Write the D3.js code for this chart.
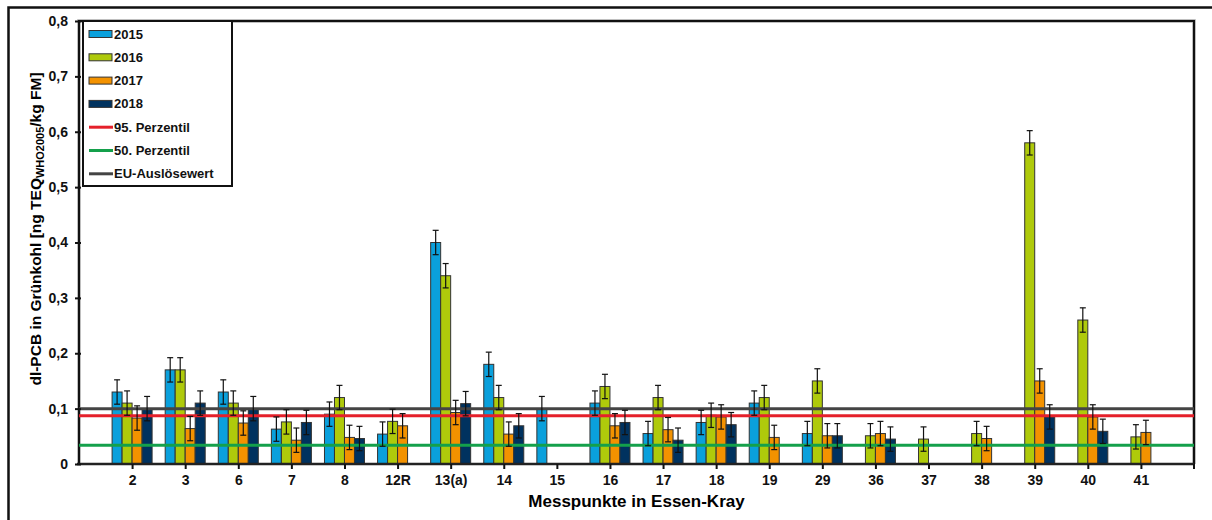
<!DOCTYPE html>
<html>
<head>
<meta charset="utf-8">
<script src="https://cdn.jsdelivr.net/npm/d3@7"></script>
<style>
  body { margin: 0; background: #fff; }
  svg { display: block; font-family: Arial, 'Liberation Sans', sans-serif; }
  .tick text { font-weight: bold; font-size: 14px; fill: #111; }
</style>
</head>
<body>
<div id="chart"></div>
<script>
// values (ng TEQ/kg FM)
const categories = ['2', '3', '6', '7', '8', '12R', '13(a)', '14', '15', '16', '17', '18', '19', '29', '36', '37', '38', '39', '40', '41'];
const years = ['2015', '2016', '2017', '2018'];
const v2015 = [0.13, 0.17, 0.13, 0.063, 0.09, 0.054, 0.40, 0.18, 0.10, 0.11, 0.055, 0.075, 0.11, 0.055, null, null, null, null, null, null];
const v2016 = [0.11, 0.17, 0.11, 0.076, 0.12, 0.077, 0.34, 0.12, null, 0.14, 0.12, 0.088, 0.12, 0.15, 0.051, 0.045, 0.055, 0.58, 0.26, 0.049];
const v2017 = [0.083, 0.064, 0.074, 0.043, 0.048, 0.069, 0.093, 0.054, null, 0.069, 0.062, 0.085, 0.048, 0.051, 0.055, null, 0.046, 0.15, 0.085, 0.057];
const v2018 = [0.10, 0.11, 0.10, 0.075, 0.046, null, 0.109, 0.069, null, 0.075, 0.043, 0.071, null, 0.051, 0.045, null, null, 0.085, 0.059, null];
const errorMargin = 0.022;
const yTicks = [0, 0.1, 0.2, 0.3, 0.4, 0.5, 0.6, 0.7, 0.8];
const refLines = [
    { name: '95. Perzentil', value: 0.087, color: '#e5202a' },
    { name: '50. Perzentil', value: 0.034, color: '#14a04b' },
    { name: 'EU-Auslösewert', value: 0.10, color: '#444444' }
];
const colors = ['#0aa0dc', '#afca0b', '#f39200', '#00325f'];

const width = 1212, height = 520;
const margin = { left: 79, right: 18, top: 21, bottom: 56 };
const series = [v2015, v2016, v2017, v2018];

const svg = d3.select('#chart').append('svg')
    .attr('width', width).attr('height', height);

// outer frame (only top/left visible)
svg.append('path')
    .attr('d', `M8.5,${height + 5}V7.5H${width + 5}`)
    .attr('fill', 'none').attr('stroke', '#111').attr('stroke-width', 2.5);

const x0 = margin.left, x1 = width - margin.right;
const step = (x1 - x0) / (categories.length + 1);
const x = d3.scalePoint().domain(categories).range([x0 + step, x1 - step]);
const y = d3.scaleLinear().domain([0, 0.8]).range([height - margin.bottom, margin.top]);
const barW = 10;

// plot frame
const framePath = `M${x0},${y(0)}V${margin.top}H${x1}V${y(0)}`;
svg.append('path').attr('d', framePath)
    .attr('fill', 'none').attr('stroke', '#aaa').attr('stroke-width', 3.5);
svg.append('path').attr('d', framePath)
    .attr('fill', 'none').attr('stroke', '#111').attr('stroke-width', 2);

// bars
series.forEach((vals, s) => {
    const data = vals.map((v, i) => ({ v, c: categories[i] })).filter(d => d.v != null);
    svg.append('g').selectAll('rect').data(data).join('rect')
        .attr('x', d => x(d.c) - 2 * barW + s * barW)
        .attr('y', d => y(d.v))
        .attr('width', barW)
        .attr('height', d => y(0) - y(d.v))
        .attr('fill', colors[s])
        .attr('stroke', '#333').attr('stroke-width', 1);
});

// reference lines
refLines.forEach(r => {
    svg.append('line')
        .attr('x1', x0).attr('x2', x1)
        .attr('y1', y(r.value)).attr('y2', y(r.value))
        .attr('stroke', r.color).attr('stroke-width', 3);
});

// error bars
series.forEach((vals, s) => {
    const data = vals.map((v, i) => ({ v, c: categories[i] })).filter(d => d.v != null);
    const g = svg.append('g').attr('stroke', '#111').attr('stroke-width', 1.2);
    data.forEach(d => {
        const cx = x(d.c) - 2 * barW + s * barW + barW / 2;
        const yt = y(d.v + errorMargin), yb = y(d.v - errorMargin);
        g.append('line').attr('x1', cx).attr('x2', cx).attr('y1', yt).attr('y2', yb);
        g.append('line').attr('x1', cx - 3).attr('x2', cx + 3).attr('y1', yt).attr('y2', yt);
        g.append('line').attr('x1', cx - 3).attr('x2', cx + 3).attr('y1', yb).attr('y2', yb);
    });
});

// x axis
const xAxis = svg.append('g')
    .attr('transform', `translate(0,${y(0)})`)
    .call(d3.axisBottom(x).tickSize(5).tickSizeOuter(0).tickPadding(6));
xAxis.select('.domain').attr('d', `M${x0 - 2},0H${x1}`).attr('stroke', '#222').attr('stroke-width', 2.5);
xAxis.selectAll('.tick line').attr('stroke', '#111').attr('stroke-width', 2);
xAxis.append('line').attr('x1', x1).attr('x2', x1).attr('y1', 0).attr('y2', 5)
    .attr('stroke', '#111').attr('stroke-width', 2);

// y axis
const yAxis = svg.append('g')
    .attr('transform', `translate(${x0},0)`)
    .call(d3.axisLeft(y).tickValues(yTicks).tickSize(4).tickSizeOuter(0).tickPadding(7)
        .tickFormat(d => d === 0 ? '0' : d3.format('.1f')(d).replace('.', ',')));
yAxis.select('.domain').remove();
yAxis.selectAll('.tick line').attr('stroke', '#111').attr('stroke-width', 2).attr('x2', -4).attr('x1', 2);

// axis titles
svg.append('text')
    .attr('x', (x0 + x1) / 2).attr('y', 507)
    .attr('text-anchor', 'middle')
    .attr('font-weight', 'bold').attr('font-size', 17)
    .text('Messpunkte in Essen-Kray');

const yt = svg.append('text')
    .attr('transform', 'translate(41,229) rotate(-90)')
    .attr('text-anchor', 'middle')
    .attr('font-weight', 'bold').attr('font-size', 15.5);
yt.append('tspan').text('dl-PCB in Grünkohl [ng TEQ');
yt.append('tspan').attr('font-size', 11).attr('dy', 3).text('WHO2005');
yt.append('tspan').attr('dy', -3).text('/kg FM]');

// legend
const legend = svg.append('g');
legend.append('rect')
    .attr('x', 83).attr('y', 21).attr('width', 149).attr('height', 165)
    .attr('fill', '#fff').attr('stroke', '#111').attr('stroke-width', 2);
const legendItems = years.map((n, i) => ({ name: n, color: colors[i], type: 'bar' }))
    .concat(refLines.map(r => ({ name: r.name, color: r.color, type: 'line' })));
legendItems.forEach((d, i) => {
    const cy = 34 + i * 23.3;
    if (d.type === 'bar') {
        legend.append('rect').attr('x', 89).attr('y', cy - 3.5).attr('width', 23).attr('height', 7)
            .attr('fill', d.color).attr('stroke', '#333').attr('stroke-width', 1);
    } else {
        legend.append('line').attr('x1', 89).attr('x2', 113).attr('y1', cy).attr('y2', cy)
            .attr('stroke', d.color).attr('stroke-width', 3);
    }
    legend.append('text').attr('x', 114).attr('y', cy + 4.5)
        .attr('font-weight', 'bold').attr('font-size', 13).attr('fill', '#111')
        .text(d.name);
});
</script>
</body>
</html>
